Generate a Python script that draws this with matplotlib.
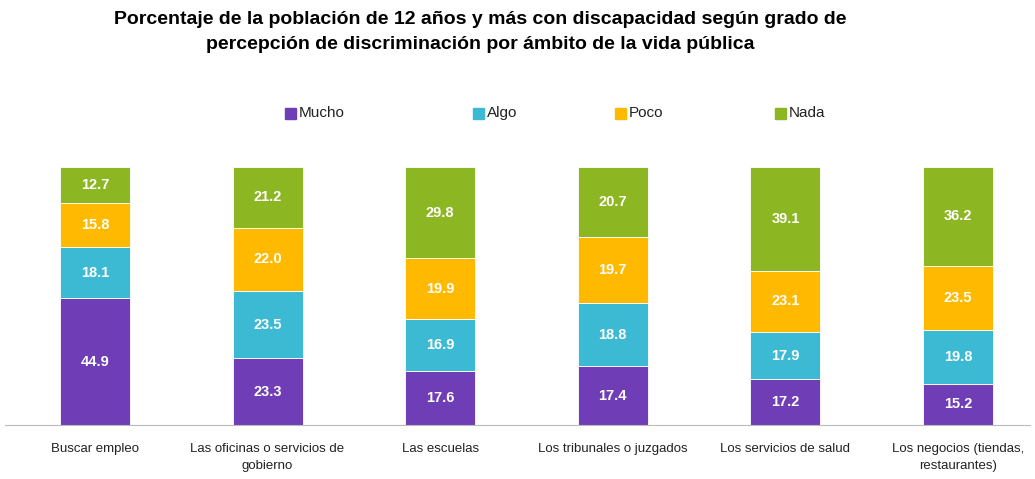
import numpy as np
import matplotlib.pyplot as plt

plt.rcParams['font.family'] = ['Liberation Sans', 'DejaVu Sans']

categorias = ['Buscar empleo', 'Las oficinas o servicios de\ngobierno', 'Las escuelas',
              'Los tribunales o juzgados', 'Los servicios de salud',
              'Los negocios (tiendas,\nrestaurantes)']
mucho = [44.9, 23.3, 17.6, 17.4, 17.2, 15.2]
algo = [18.1, 23.5, 16.9, 18.8, 17.9, 19.8]
poco = [15.8, 22.0, 19.9, 19.7, 23.1, 23.5]
nada = [12.7, 21.2, 29.8, 20.7, 39.1, 36.2]

series = [('Mucho', mucho, '#6F3DB6'), ('Algo', algo, '#3DBAD3'),
          ('Poco', poco, '#FFBA00'), ('Nada', nada, '#8DB623')]

vals = np.array([s[1] for s in series])
totales = vals.sum(axis=0)
x = np.arange(len(categorias))

fig = plt.figure(figsize=(10.35, 4.79), dpi=100)
ax = fig.add_axes([5 / 1035, 1 - 425 / 479, 1025 / 1035, (425 - 167) / 479])

base = np.zeros(len(categorias))
for nombre, v, color in series:
    v = np.array(v)
    h = v / totales * 100
    ax.bar(x, h, bottom=base, width=0.405, color=color, label=nombre,
           edgecolor='white', linewidth=0.6)
    for xi, bi, hi, vi in zip(x, base, h, v):
        ax.text(xi, bi + hi / 2, f'{vi:.1f}', ha='center', va='center',
                color='white', fontsize=10.5, fontweight='bold')
    base += h

ax.set_xlim(-0.521, 5.417)
ax.set_ylim(0, 100)
ax.set_yticks([])
ax.set_xticks(x)
ax.set_xticklabels(categorias, fontsize=9.5, color='#222222', linespacing=1.6)
ax.tick_params(axis='x', length=0, pad=13)
for s in ['top', 'right', 'left']:
    ax.spines[s].set_visible(False)
ax.spines['bottom'].set_color('#BBBBBB')

leg_x = [285, 473, 615, 775]
for (nombre, v, color), lx in zip(series, leg_x):
    fig.patches.append(plt.Rectangle((lx / 1035, 1 - 119 / 479), 11 / 1035, 11 / 479,
                                     transform=fig.transFigure, color=color))
    fig.text((lx + 14) / 1035, 1 - 113 / 479, nombre, fontsize=11, va='center',
             color='#222222')

fig.text(480 / 1035, 1 - 32 / 479,
         'Porcentaje de la población de 12 años y más con discapacidad según grado de\n'
         'percepción de discriminación por ámbito de la vida pública',
         ha='center', va='center', fontsize=14, fontweight='bold', linespacing=1.6)

fig.savefig('out.png', dpi=100)
